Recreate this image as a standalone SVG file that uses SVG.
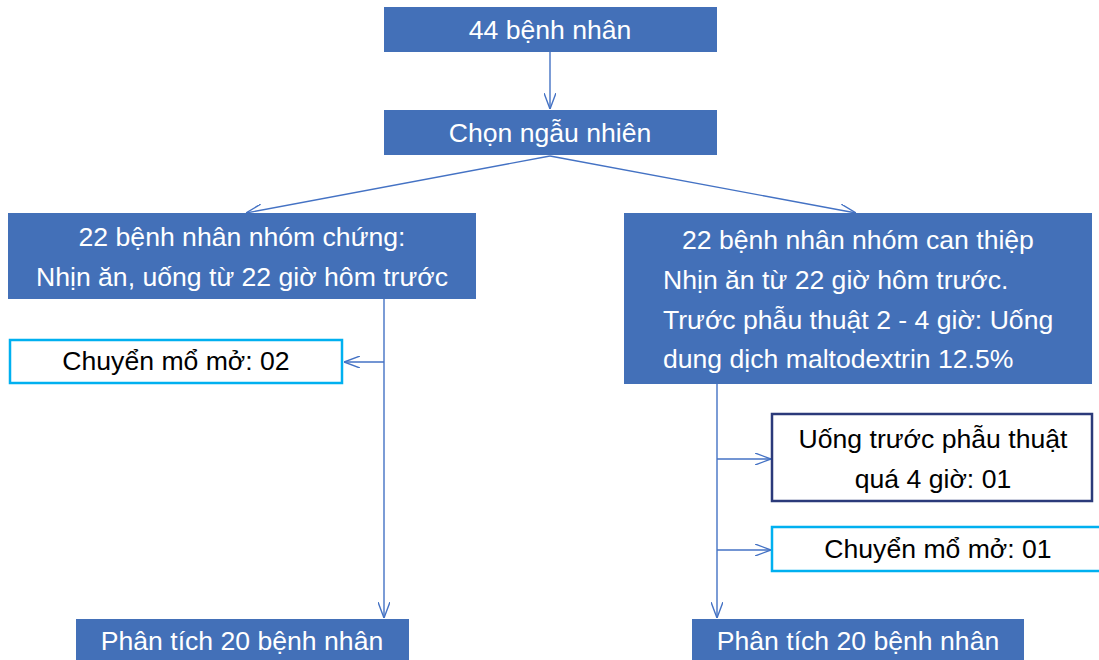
<svg xmlns="http://www.w3.org/2000/svg" width="1099" height="660" viewBox="0 0 1099 660">
<defs>
<style>
.fill{fill:#4370B8;}
.wt{fill:#FFFFFF;font-family:"Liberation Sans",Arial,sans-serif;font-size:26.6px;}
.bt{fill:#000000;font-family:"Liberation Sans",Arial,sans-serif;font-size:26.6px;}
.c{text-anchor:middle;}
.cy{fill:#FFFFFF;stroke:#00B0F0;stroke-width:2.5;}
.nv{fill:#FFFFFF;stroke:#2B3A7A;stroke-width:2.5;}
.ln{fill:none;stroke:#4472C4;stroke-width:1.4;}
</style>
<marker id="ah" viewBox="0 0 16 12" refX="16" refY="6" markerWidth="16" markerHeight="12" markerUnits="userSpaceOnUse" orient="auto">
<path d="M0,0 L16,6 L0,12" fill="none" stroke="#4472C4" stroke-width="1.4"/>
</marker>
</defs>
<rect width="1099" height="660" fill="#FFFFFF"/>
<g id="connectors">
<line class="ln" x1="550" y1="52" x2="550" y2="109" marker-end="url(#ah)"/>
<line class="ln" x1="550" y1="156" x2="246" y2="213" marker-end="url(#ah)"/>
<line class="ln" x1="550" y1="156" x2="856" y2="213" marker-end="url(#ah)"/>
<line class="ln" x1="384" y1="299" x2="384" y2="618" marker-end="url(#ah)"/>
<line class="ln" x1="384" y1="362" x2="344" y2="362" marker-end="url(#ah)"/>
<line class="ln" x1="717" y1="384" x2="717" y2="618" marker-end="url(#ah)"/>
<line class="ln" x1="717" y1="459" x2="771" y2="459" marker-end="url(#ah)"/>
<line class="ln" x1="717" y1="550" x2="771" y2="550" marker-end="url(#ah)"/>
</g>
<g id="n44">
<rect class="fill" x="384" y="7" width="333" height="45"/>
<text class="wt c" x="550" y="39">44 bệnh nhân</text>
</g>
<g id="random">
<rect class="fill" x="384" y="110" width="333" height="45"/>
<text class="wt c" x="550" y="142">Chọn ngẫu nhiên</text>
</g>
<g id="control">
<rect class="fill" x="8" y="213" width="468" height="86"/>
<text class="wt c" x="242" y="246">22 bệnh nhân nhóm chứng:</text>
<text class="wt c" x="242" y="286">Nhịn ăn, uống từ 22 giờ hôm trước</text>
</g>
<g id="intervention">
<rect class="fill" x="624" y="213" width="468" height="171"/>
<text class="wt" x="682" y="249">22 bệnh nhân nhóm can thiệp</text>
<text class="wt" x="663" y="289">Nhịn ăn từ 22 giờ hôm trước.</text>
<text class="wt" x="663" y="329">Trước phẫu thuật 2 - 4 giờ: Uống</text>
<text class="wt" x="663" y="368">dung dịch maltodextrin 12.5%</text>
</g>
<g id="open1">
<rect class="cy" x="10" y="340" width="332" height="43"/>
<text class="bt c" x="176" y="370">Chuyển mổ mở: 02</text>
</g>
<g id="late">
<rect class="nv" x="772" y="414" width="320" height="87"/>
<text class="bt c" x="933" y="448">Uống trước phẫu thuật</text>
<text class="bt c" x="933" y="488">quá 4 giờ: 01</text>
</g>
<g id="open2">
<rect class="cy" x="772" y="527" width="340" height="44"/>
<text class="bt c" x="938" y="558">Chuyển mổ mở: 01</text>
</g>
<g id="analysisL">
<rect class="fill" x="76" y="619" width="333" height="50"/>
<text class="wt c" x="242" y="650">Phân tích 20 bệnh nhân</text>
</g>
<g id="analysisR">
<rect class="fill" x="692" y="619" width="332" height="50"/>
<text class="wt c" x="858" y="650">Phân tích 20 bệnh nhân</text>
</g>
</svg>
